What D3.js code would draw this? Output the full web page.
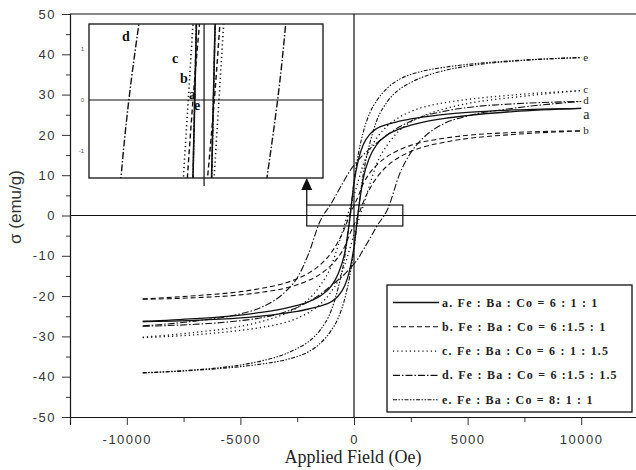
<!DOCTYPE html>
<html>
<head>
<meta charset="utf-8">
<script src="https://cdnjs.cloudflare.com/ajax/libs/d3/7.8.5/d3.min.js"></script>
<style>
  body { margin: 0; background: #fff; }
  svg { display: block; }
</style>
</head>
<body>
<div id="chart"></div>
<script>
// applied field grid (Oe) for the two branches of each loop
var fieldDown = [10000, 7000, 5000, 4000, 3000, 2500, 2000, 1500, 1000, 700, 400, 200, 0, -200, -400, -700, -1000, -1500, -2000, -2500, -3000, -4000, -5000, -7000, -9300];
var fieldUp = [-9300, -7000, -5000, -4000, -3000, -2500, -2000, -1500, -1000, -700, -400, -200, 0, 200, 400, 700, 1000, 1500, 2000, 2500, 3000, 4000, 5000, 7000, 10000];

// magnetisation sigma (emu/g)
var aDown = [26.6, 26.2, 25.6, 25.1, 24.4, 24.0, 23.4, 22.7, 21.6, 20.2, 17.5, 14.0, 8.0, -1.5, -9.0, -14.5, -17.5, -20.0, -21.4, -22.3, -23.0, -24.0, -24.7, -25.6, -26.3];
var aUp = [-26.3, -26.0, -25.4, -24.9, -24.2, -23.8, -23.2, -22.5, -21.4, -20.0, -17.3, -13.8, -7.8, 1.5, 9.0, 14.6, 17.6, 20.1, 21.5, 22.4, 23.1, 24.1, 24.8, 25.8, 26.6];
var bDown = [21.0, 20.6, 19.9, 19.2, 18.2, 17.4, 16.3, 14.8, 12.5, 10.6, 7.8, 5.0, 2.5, 0.0, -3.0, -6.5, -9.2, -12.3, -14.3, -15.7, -16.7, -18.0, -18.9, -19.9, -20.7];
var bUp = [-20.8, -20.4, -19.7, -19.0, -18.0, -17.2, -16.1, -14.6, -12.3, -10.4, -7.6, -4.8, -2.3, 0.2, 3.2, 6.7, 9.4, 12.5, 14.5, 15.9, 16.9, 18.2, 19.1, 20.1, 21.0];
var cDown = [31.0, 29.9, 28.8, 28.0, 26.8, 25.8, 24.4, 22.4, 19.2, 16.5, 12.5, 8.8, 5.0, 1.5, -2.0, -7.5, -12.5, -17.5, -20.8, -22.9, -24.3, -26.2, -27.5, -29.0, -30.2];
var cUp = [-30.3, -29.6, -28.5, -27.7, -26.5, -25.5, -24.1, -22.1, -18.9, -16.2, -12.2, -8.5, -4.7, -1.2, 2.3, 7.8, 12.8, 17.8, 21.1, 23.2, 24.6, 26.5, 27.8, 29.3, 31.0];
var dDown = [28.3, 27.7, 26.8, 25.9, 24.5, 23.4, 22.0, 20.2, 18.0, 16.6, 15.0, 13.8, 12.5, 10.9, 9.0, 6.0, 3.0, -1.5, -9.5, -15.5, -18.8, -22.6, -24.4, -26.2, -27.4];
var dUp = [-27.5, -27.0, -26.1, -25.3, -23.9, -22.8, -21.4, -19.6, -17.4, -16.0, -14.5, -13.3, -12.0, -10.5, -8.6, -5.7, -2.7, 1.8, 10.2, 15.6, 19.0, 22.9, 24.7, 26.6, 28.3];
var eDown = [39.2, 38.4, 37.5, 36.8, 35.8, 35.0, 33.8, 31.8, 28.5, 25.5, 20.5, 15.5, 8.5, -1.5, -10.0, -18.0, -23.5, -28.5, -31.3, -33.0, -34.3, -36.0, -37.1, -38.3, -39.0];
var eUp = [-39.1, -38.4, -37.5, -36.8, -35.8, -35.0, -33.8, -31.8, -28.5, -25.5, -20.5, -15.5, -8.5, 1.5, 10.0, 18.0, 23.5, 28.5, 31.3, 33.0, 34.3, 36.0, 37.1, 38.3, 39.2];

var sampleKeys = ["a", "b", "c", "d", "e"];
var legendLabels = [
  "a. Fe : Ba : Co = 6 : 1 : 1",
  "b. Fe : Ba : Co = 6 :1.5 : 1",
  "c. Fe : Ba : Co = 6 : 1 : 1.5",
  "d. Fe : Ba : Co = 6 :1.5 : 1.5",
  "e. Fe : Ba : Co = 8: 1 : 1"
];
var xMajor = [-10000, -5000, 0, 5000, 10000];
var xMinor = [-12500, -7500, -2500, 2500, 7500, 12500];
var yMajor = [-50, -40, -30, -20, -10, 0, 10, 20, 30, 40, 50];
var yMinor = [-45, -35, -25, -15, -5, 5, 15, 25, 35, 45];
var insetTicks = [1, 0, -1];
var zoomBoxX = [-2080, 2150], zoomBoxY = [-2.6, 2.6];

window.onload = function () {
  var width = 636, height = 470;
  var left = 70, right = 638, top = 14, bottom = 417;

  var svg = d3.select("#chart").append("svg")
      .attr("width", width)
      .attr("height", height);

  var x = d3.scaleLinear().domain([-12500, 12500]).range([left, right]);
  var y = d3.scaleLinear().domain([-50, 50]).range([bottom, top]);

  // inset scales (zoom around the origin)
  var ix = d3.scaleLinear().domain(zoomBoxX).range([89, 323]);
  var iy = d3.scaleLinear().domain([-1.53, 1.49]).range([178, 24]);

  var series = {
    a: {down: aDown, up: aUp, dash: null, w: 1.3},
    b: {down: bDown, up: bUp, dash: "5,3", w: 1.1},
    c: {down: cDown, up: cUp, dash: "1.2,3", w: 1.3},
    d: {down: dDown, up: dUp, dash: "7,2,1.5,2", w: 1.1},
    e: {down: eDown, up: eUp, dash: "4,1.5,1.5,1.5,1.5,1.5", w: 1.1}
  };

  function branch(fields, vals) {
    var pts = fields.map(function (f, i) { return [f, vals[i]]; });
    pts.sort(function (p, q) { return p[0] - q[0]; });
    return pts;
  }

  // frame: top line, left and bottom axes
  svg.append("line").attr("x1", left).attr("x2", right).attr("y1", top).attr("y2", top)
      .attr("stroke", "#111").attr("stroke-width", 1.2);

  var tickFont = "Liberation Sans, Arial, sans-serif";

  svg.append("g")
      .attr("transform", "translate(0," + bottom + ")")
      .call(d3.axisBottom(x).tickValues(xMajor).tickSize(8).tickPadding(10)
        .tickFormat(function (d) { return d < 0 ? "-" + Math.abs(d) : d; }));
  svg.append("g")
      .attr("transform", "translate(0," + bottom + ")")
      .call(d3.axisBottom(x).tickValues(xMinor).tickSize(5).tickFormat(""))
      .select(".domain").remove();

  svg.append("g")
      .attr("transform", "translate(" + left + ",0)")
      .call(d3.axisLeft(y).tickValues(yMajor).tickSize(8).tickPadding(6)
        .tickFormat(function (d) { return d < 0 ? "-" + Math.abs(d) : d; }));
  svg.append("g")
      .attr("transform", "translate(" + left + ",0)")
      .call(d3.axisLeft(y).tickValues(yMinor).tickSize(4).tickFormat(""))
      .select(".domain").remove();

  svg.selectAll(".domain").attr("stroke", "#111").attr("stroke-width", 1.2);
  svg.selectAll(".tick line").attr("stroke", "#333");
  svg.selectAll(".tick text")
      .attr("font-family", tickFont)
      .attr("font-size", 13)
      .attr("letter-spacing", 1.5)
      .attr("fill", "#333");

  // zero lines
  svg.append("line").attr("x1", left).attr("x2", right)
      .attr("y1", y(0)).attr("y2", y(0))
      .attr("stroke", "#111").attr("stroke-width", 1.2);
  svg.append("line").attr("x1", x(0)).attr("x2", x(0))
      .attr("y1", top).attr("y2", bottom)
      .attr("stroke", "#111").attr("stroke-width", 1.2);

  // hysteresis loops
  var line = d3.line()
      .x(function (d) { return x(d[0]); })
      .y(function (d) { return y(d[1]); })
      .curve(d3.curveMonotoneX);

  var loops = svg.append("g");
  sampleKeys.forEach(function (k) {
    var s = series[k];
    [branch(fieldDown, s.down), branch(fieldUp, s.up)].forEach(function (pts) {
      loops.append("path")
          .attr("d", line(pts))
          .attr("fill", "none")
          .attr("stroke", "#111")
          .attr("stroke-width", s.w)
          .attr("stroke-dasharray", s.dash);
    });
  });

  // curve end labels
  var endOffsets = {a: 11, b: 3, c: 2, d: 3, e: 3};
  sampleKeys.forEach(function (k) {
    var s = series[k];
    svg.append("text")
        .attr("x", x(10000) + 2)
        .attr("y", y(s.up[s.up.length - 1]) + endOffsets[k])
        .attr("font-family", "Liberation Serif, Times New Roman, serif")
        .attr("font-size", k == "a" ? 14 : 11)
        .attr("fill", "#222")
        .text(k);
  });

  // zoom box around the origin and arrow to the inset
  svg.append("rect")
      .attr("x", x(zoomBoxX[0])).attr("y", y(zoomBoxY[1]))
      .attr("width", x(zoomBoxX[1]) - x(zoomBoxX[0]))
      .attr("height", y(zoomBoxY[0]) - y(zoomBoxY[1]))
      .attr("fill", "none").attr("stroke", "#111").attr("stroke-width", 1.2);
  var ax = x(zoomBoxX[0]);
  svg.append("line").attr("x1", ax).attr("x2", ax)
      .attr("y1", y(zoomBoxY[1])).attr("y2", 188)
      .attr("stroke", "#111").attr("stroke-width", 1.3);
  svg.append("path")
      .attr("d", "M" + (ax - 5.5) + ",190L" + ax + ",178L" + (ax + 5.5) + ",190Z")
      .attr("fill", "#111");

  // inset
  var inset = svg.append("g");
  inset.append("clipPath").attr("id", "insetClip")
    .append("rect").attr("x", 89).attr("y", 24).attr("width", 234).attr("height", 154);
  inset.append("rect")
      .attr("x", 89).attr("y", 24).attr("width", 234).attr("height", 154)
      .attr("fill", "#fff").attr("stroke", "#111").attr("stroke-width", 1.3);

  inset.append("line").attr("x1", 89).attr("x2", 323)
      .attr("y1", iy(0)).attr("y2", iy(0))
      .attr("stroke", "#111").attr("stroke-width", 1.2);
  inset.append("line").attr("x1", ix(0)).attr("x2", ix(0))
      .attr("y1", 24).attr("y2", 186)
      .attr("stroke", "#111").attr("stroke-width", 1.2);

  inset.selectAll(".itick")
      .data(insetTicks)
    .enter().append("text")
      .attr("class", "itick")
      .attr("x", 84)
      .attr("y", function (d) { return iy(d) + 2; })
      .attr("text-anchor", "end")
      .attr("font-family", tickFont)
      .attr("font-size", 6)
      .attr("fill", "#555")
      .text(function (d) { return d; });

  var iline = d3.line()
      .x(function (d) { return ix(d[0]); })
      .y(function (d) { return iy(d[1]); })
      .curve(d3.curveMonotoneX);
  var insetLoops = inset.append("g").attr("clip-path", "url(#insetClip)");
  sampleKeys.forEach(function (k) {
    var s = series[k];
    [branch(fieldDown, s.down), branch(fieldUp, s.up)].forEach(function (pts) {
      insetLoops.append("path")
          .attr("d", iline(pts))
          .attr("fill", "none")
          .attr("stroke", "#111")
          .attr("stroke-width", s.w + 0.3)
          .attr("stroke-dasharray", s.dash);
    });
  });

  var insetLabelPos = {d: [122, 41], c: [172, 63], b: [180, 83], a: [189, 99], e: [194, 110]};
  sampleKeys.forEach(function (k) {
    inset.append("text")
        .attr("x", insetLabelPos[k][0])
        .attr("y", insetLabelPos[k][1])
        .attr("font-family", "Liberation Serif, Times New Roman, serif")
        .attr("font-weight", "bold")
        .attr("font-size", 14)
        .attr("fill", "#111")
        .text(k);
  });

  // legend
  var legend = svg.append("g").attr("transform", "translate(387,285)");
  legend.append("rect")
      .attr("width", 245).attr("height", 127)
      .attr("fill", "#fff").attr("stroke", "#111").attr("stroke-width", 1.3);
  var rows = legend.selectAll(".row")
      .data(sampleKeys)
    .enter().append("g")
      .attr("class", "row")
      .attr("transform", function (d, i) { return "translate(0," + (17.5 + i * 24.3) + ")"; });
  rows.append("line")
      .attr("x1", 6).attr("x2", 52)
      .attr("stroke", "#111")
      .attr("stroke-width", function (d) { return series[d].w; })
      .attr("stroke-dasharray", function (d) { return series[d].dash; });
  rows.append("text")
      .attr("x", 55).attr("y", 4)
      .attr("font-family", "Liberation Serif, Times New Roman, serif")
      .attr("font-size", 12)
      .attr("font-weight", "bold")
      .attr("letter-spacing", 1.2)
      .attr("fill", "#222")
      .text(function (d, i) { return legendLabels[i]; });

  // axis titles
  svg.append("text")
      .attr("x", 353).attr("y", 463)
      .attr("text-anchor", "middle")
      .attr("font-family", "Liberation Serif, Times New Roman, serif")
      .attr("font-size", 18)
      .attr("fill", "#222")
      .text("Applied Field (Oe)");
  svg.append("text")
      .attr("transform", "translate(21,207) rotate(-90)")
      .attr("text-anchor", "middle")
      .attr("font-family", tickFont)
      .attr("font-size", 17)
      .attr("fill", "#333")
      .text("σ (emu/g)");
};
</script>
</body>
</html>
